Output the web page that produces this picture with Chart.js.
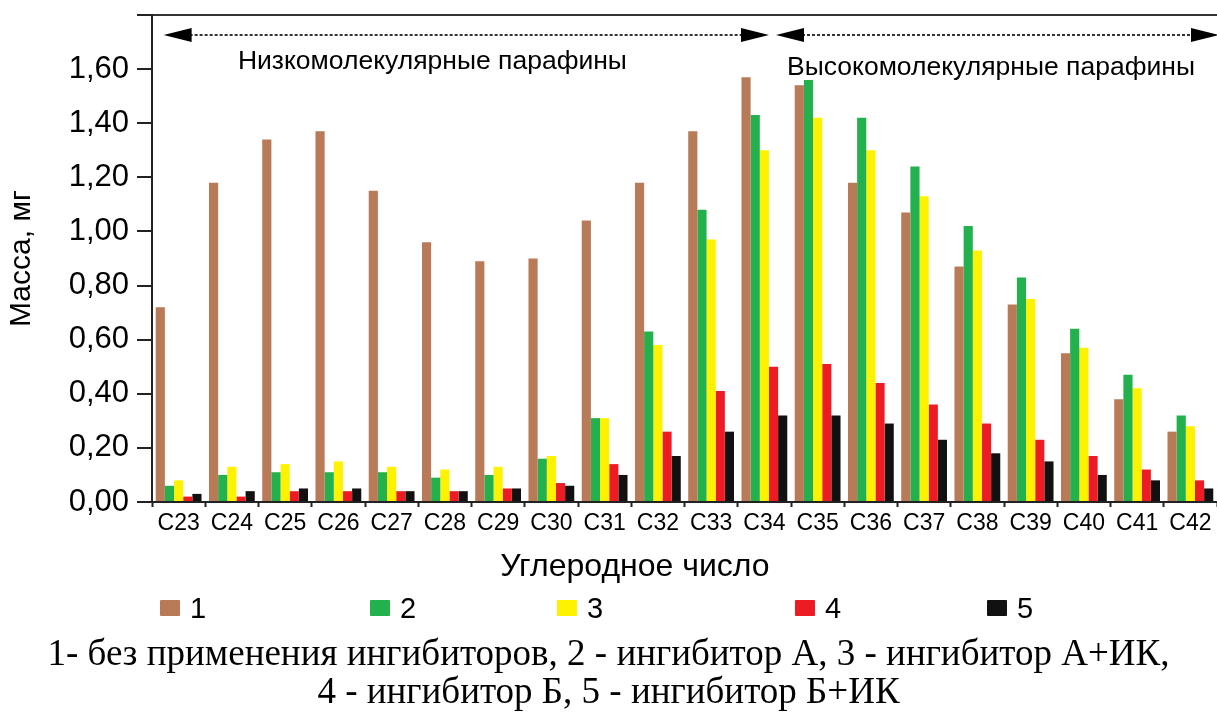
<!DOCTYPE html>
<html>
<head>
<meta charset="utf-8">
<script src="https://cdn.jsdelivr.net/npm/chart.js@4/dist/chart.umd.min.js"></script>
<style>
  html, body { margin: 0; padding: 0; background: #fff; }
  #wrap { position: relative; width: 1217px; height: 713px; overflow: hidden; }
  #legend { position: absolute; left: 0; top: 588px; width: 1217px; height: 40px; font-family: "Liberation Sans", Arial, sans-serif; font-size: 29px; color: #000; }
  .lg-item { position: absolute; top: 0; display: flex; align-items: center; height: 40px; }
  .lg-box { width: 20px; height: 16px; margin-right: 10px; border-radius: 1px; }
  #caption { position: absolute; left: 0; top: 634px; width: 1217px; text-align: center; font-family: "Liberation Serif", "Times New Roman", serif; font-size: 37px; line-height: 38px; color: #000; white-space: nowrap; }
</style>
</head>
<body>
<div id="wrap">
  <canvas id="chart" width="1217" height="713"></canvas>
  <div id="legend"></div>
  <div id="caption">1- без применения ингибиторов, 2 - ингибитор А, 3 - ингибитор А+ИК,<br>4 - ингибитор Б, 5 - ингибитор Б+ИК</div>
</div>
<script>
// данные
const categories = ['C23','C24','C25','C26','C27','C28','C29','C30','C31','C32',
                    'C33','C34','C35','C36','C37','C38','C39','C40','C41','C42'];
const seriesLabels = ['1', '2', '3', '4', '5'];
const s1 = [0.72,1.18,1.34,1.37,1.15,0.96,0.89,0.90,1.04,1.18,1.37,1.57,1.54,1.18,1.07,0.87,0.73,0.55,0.38,0.26];
const s2 = [0.06,0.10,0.11,0.11,0.11,0.09,0.10,0.16,0.31,0.63,1.08,1.43,1.56,1.42,1.24,1.02,0.83,0.64,0.47,0.32];
const s3 = [0.08,0.13,0.14,0.15,0.13,0.12,0.13,0.17,0.31,0.58,0.97,1.30,1.42,1.30,1.13,0.93,0.75,0.57,0.42,0.28];
const s4 = [0.02,0.02,0.04,0.04,0.04,0.04,0.05,0.07,0.14,0.26,0.41,0.50,0.51,0.44,0.36,0.29,0.23,0.17,0.12,0.08];
const s5 = [0.03,0.04,0.05,0.05,0.04,0.04,0.05,0.06,0.10,0.17,0.26,0.32,0.32,0.29,0.23,0.18,0.15,0.10,0.08,0.05];
const yTicks = [0, 0.2, 0.4, 0.6, 0.8, 1.0, 1.2, 1.4, 1.6];
const groupNames = ['Низкомолекулярные парафины', 'Высокомолекулярные парафины'];
const xTitle = 'Углеродное число';

const colors = ['#b97a57', '#22b14c', '#fff200', '#ed1c24', '#111111'];
const seriesData = [s1, s2, s3, s4, s5];

// стрелки, подписи групп сверху и подпись оси X
const arrowPlugin = {
  id: 'arrows',
  afterDraw(chart) {
    const { ctx, chartArea } = chart;
    const x = chart.scales.x;
    const y = chartArea.top + 20;
    const b = (x.getPixelForValue(11) + x.getPixelForValue(12)) / 2;
    const segs = [
      [x.getPixelForValue(0) - 15, b - 22],
      [b - 15, chartArea.right + 2]
    ];
    ctx.save();
    ctx.fillStyle = '#000';
    ctx.strokeStyle = '#333';
    segs.forEach(([a, c]) => {
      ctx.setLineDash([3, 2]);
      ctx.lineWidth = 2;
      ctx.beginPath();
      ctx.moveTo(a + 26, y);
      ctx.lineTo(c - 26, y);
      ctx.stroke();
      ctx.setLineDash([]);
      // левая стрелка
      ctx.beginPath();
      ctx.moveTo(a, y);
      ctx.lineTo(a + 28, y - 7);
      ctx.lineTo(a + 28, y + 7);
      ctx.closePath();
      ctx.fill();
      // правая стрелка
      ctx.beginPath();
      ctx.moveTo(c, y);
      ctx.lineTo(c - 28, y - 7);
      ctx.lineTo(c - 28, y + 7);
      ctx.closePath();
      ctx.fill();
    });
    ctx.font = '26.5px "Liberation Sans", Arial, sans-serif';
    ctx.textBaseline = 'middle';
    ctx.textAlign = 'left';
    ctx.fillText(groupNames[0], x.getPixelForValue(1) + 6, chartArea.top + 47);
    ctx.fillText(groupNames[1], b - 4, chartArea.top + 53);
    // подпись оси X
    ctx.font = '32px "Liberation Sans", Arial, sans-serif';
    ctx.textAlign = 'center';
    ctx.fillText(xTitle, x.getPixelForValue(9) - 23, chartArea.bottom + 65);
    ctx.restore();
  }
};

new Chart(document.getElementById('chart'), {
  type: 'bar',
  data: {
    labels: categories,
    datasets: seriesLabels.map((lbl, i) => ({
      label: lbl,
      data: seriesData[i],
      backgroundColor: colors[i],
      borderWidth: 0,
      barPercentage: 1.0,
      categoryPercentage: 0.86
    }))
  },
  options: {
    responsive: false,
    animation: false,
    layout: { padding: { top: 15, left: 0, right: 0, bottom: 124 } },
    plugins: {
      legend: { display: false },
      tooltip: { enabled: false }
    },
    scales: {
      x: {
        grid: { color: 'transparent', tickColor: '#222', tickLength: 5, tickWidth: 2, offset: true },
        border: { color: '#222', width: 2 },
        ticks: { color: '#000', font: { family: '"Liberation Sans", Arial, sans-serif', size: 23 }, padding: 3, maxRotation: 0, autoSkip: false },
        afterFit(scale) { scale.height = 87; scale.paddingLeft = 0; scale.paddingRight = 0; }
      },
      y: {
        min: 0,
        max: 1.8,
        afterBuildTicks(scale) { scale.ticks = yTicks.concat([1.8]).map(v => ({ value: v })); },
        grid: {
          color: ctx => (ctx.tick && ctx.tick.value === 1.8 ? '#333' : 'transparent'),
          tickColor: '#222', tickLength: 15, tickWidth: 2, lineWidth: 2
        },
        border: { color: '#222', width: 2 },
        ticks: {
          color: '#000',
          font: { family: '"Liberation Sans", Arial, sans-serif', size: 31 },
          padding: 8,
          callback: v => (v > 1.7 ? '' : v.toFixed(2).replace('.', ','))
        },
        title: { display: true, text: 'Масса, мг', color: '#000', font: { family: '"Liberation Sans", Arial, sans-serif', size: 30 }, padding: { top: 4, bottom: 0 } },
        afterFit(scale) { scale.width = 152; scale.paddingTop = 0; scale.paddingBottom = 0; }
      }
    }
  },
  plugins: [arrowPlugin]
});

// легенда
const legendLeft = [160, 370, 557, 795, 987];
const legendEl = document.getElementById('legend');
seriesLabels.forEach((lbl, i) => {
  const item = document.createElement('div');
  item.className = 'lg-item';
  item.style.left = legendLeft[i] + 'px';
  item.innerHTML = `<div class="lg-box" style="background:${colors[i]}"></div><span>${lbl}</span>`;
  legendEl.appendChild(item);
});
</script>
</body>
</html>
